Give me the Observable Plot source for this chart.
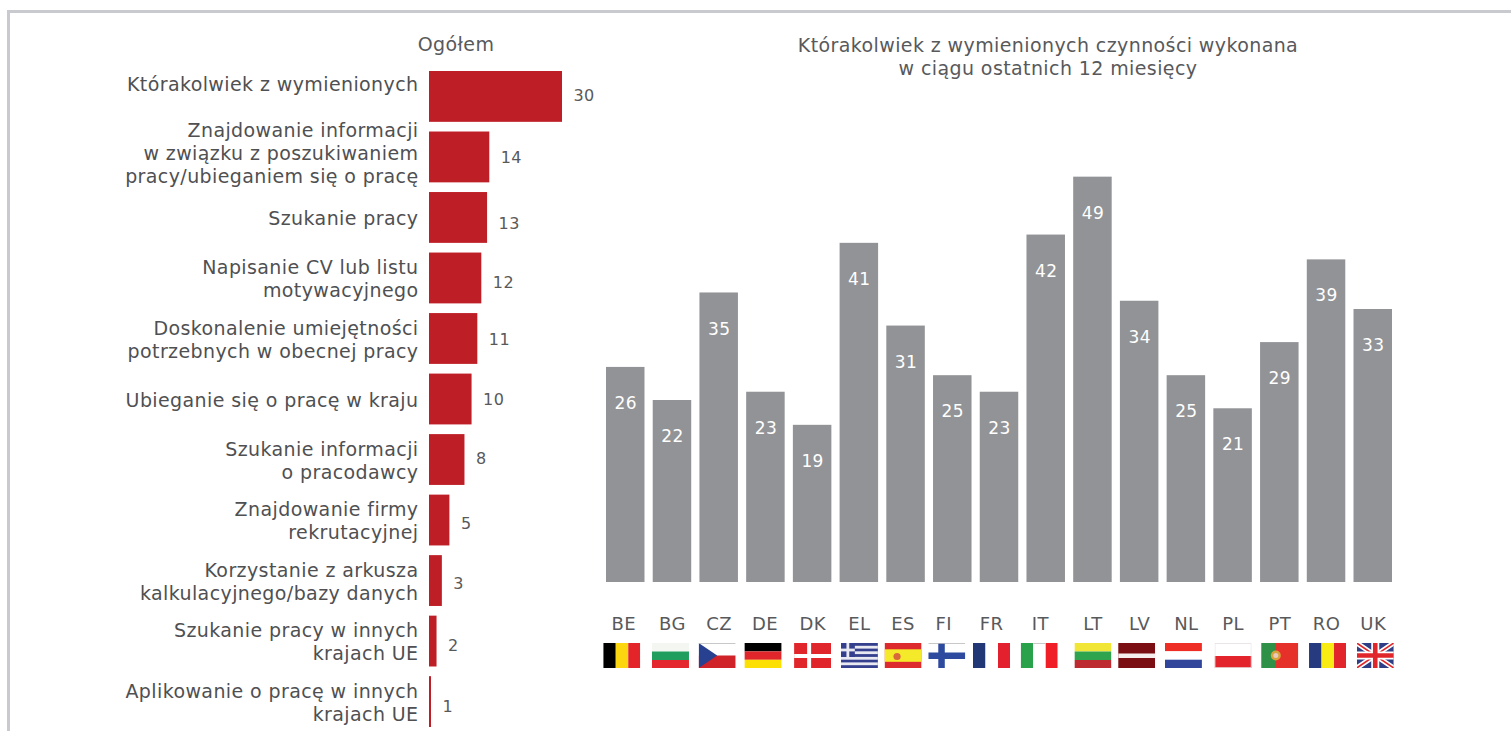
<!DOCTYPE html>
<html lang="pl">
<head>
<meta charset="utf-8">
<script src="https://cdn.jsdelivr.net/npm/d3@7"></script>
<script src="https://cdn.jsdelivr.net/npm/@observablehq/plot@0.6"></script>
<style>
  html, body { margin: 0; padding: 0; background: #fff; overflow: hidden; }
  #page { position: relative; width: 1511px; height: 731px; overflow: hidden; font-family: "DejaVu Sans", Verdana, sans-serif; color: #58595b; }
  #frame { position: absolute; left: 7px; top: 10px; right: -10px; bottom: -10px; border-left: 3px solid #c9cad0; border-top: 3px solid #c9cad0; }
  .panel { position: absolute; top: 0; }
  .panel svg { overflow: visible; }
  .panel text { letter-spacing: 0.4px; }
  .title { position: absolute; text-align: center; font-size: 19px; letter-spacing: 0.4px; line-height: 23px; }
</style>
</head>
<body>
<div id="page">
  <div id="frame"></div>
  <div class="title" style="left:356px;width:200px;top:33px">Ogółem</div>
  <div class="title" style="left:698px;width:700px;top:34px">Którakolwiek z wymienionych czynności wykonana<br>w ciągu ostatnich 12 miesięcy</div>
  <div class="panel" id="left" style="left:0"></div>
  <div class="panel" id="right" style="left:595px"></div>
</div>
<script>
const activities = [
  "Którakolwiek z wymienionych",
  "Znajdowanie informacji\nw związku z poszukiwaniem\npracy/ubieganiem się o pracę",
  "Szukanie pracy",
  "Napisanie CV lub listu\nmotywacyjnego",
  "Doskonalenie umiejętności\npotrzebnych w obecnej pracy",
  "Ubieganie się o pracę w kraju",
  "Szukanie informacji\no pracodawcy",
  "Znajdowanie firmy\nrekrutacyjnej",
  "Korzystanie z arkusza\nkalkulacyjnego/bazy danych",
  "Szukanie pracy w innych\nkrajach UE",
  "Aplikowanie o pracę w innych\nkrajach UE"
];
// bar lengths as measured in the picture, and the rounded figures printed beside them
const activityLengths = [30, 13.6, 13.1, 11.8, 10.9, 9.6, 8, 4.6, 2.9, 1.7, 0.45];
const activityLabels = [30, 14, 13, 12, 11, 10, 8, 5, 3, 2, 1];

const countries = ["BE","BG","CZ","DE","DK","EL","ES","FI","FR","IT","LT","LV","NL","PL","PT","RO","UK"];
const countryValues = [26,22,35,23,19,41,31,25,23,42,49,34,25,21,29,39,33];

const flagArt = {
  BE: '<rect width="12.5" height="25" fill="#000"/><rect x="12.5" width="12.5" height="25" fill="#fcd70f"/><rect x="25" width="12" height="25" fill="#e32428"/>',
  BG: '<rect width="37" height="8.5" fill="#f4f6f2"/><rect y="8.5" width="37" height="8.5" fill="#1f9e5e"/><rect y="17" width="37" height="9" fill="#e4272e"/>',
  CZ: '<rect width="37" height="12.5" fill="#fff"/><rect y="12.5" width="37" height="12.5" fill="#cf2229"/><path d="M0 0L18.5 12.5L0 25Z" fill="#27408f"/><rect width="37" height=".8" fill="#bbb"/>',
  DE: '<rect width="38" height="8.4" fill="#000"/><rect y="8.4" width="38" height="8.4" fill="#e1262b"/><rect y="16.8" width="38" height="8.4" fill="#fcdf03"/>',
  DK: '<rect width="37" height="25" fill="#e1262b"/><rect x="13" width="4" height="25" fill="#fff"/><rect y="11" width="37" height="4" fill="#fff"/>',
  EL: '<rect width="38" height="25" fill="#34408d"/><g fill="#e9e9f2"><rect y="2.8" width="38" height="2.8"/><rect y="8.3" width="38" height="2.8"/><rect y="13.9" width="38" height="2.8"/><rect y="19.4" width="38" height="2.8"/></g><rect width="14" height="14" fill="#34408d"/><rect x="5.6" width="2.8" height="14" fill="#e9e9f2"/><rect y="5.6" width="14" height="2.8" fill="#e9e9f2"/>',
  ES: '<rect width="37" height="25" fill="#dd2a2c"/><rect y="6.3" width="37" height="12.5" fill="#f5ea2a"/><circle cx="12.5" cy="13.5" r="3.6" fill="#d8693a"/>',
  FI: '<rect width="37" height="25" fill="#fff"/><rect x="10" width="6.5" height="25" fill="#2d4a9e"/><rect y="9.5" width="37" height="6.5" fill="#2d4a9e"/><rect width="37" height=".8" fill="#bbb"/>',
  FR: '<rect width="12.5" height="25" fill="#223776"/><rect x="12.5" width="12.5" height="25" fill="#fff"/><rect x="25" width="12" height="25" fill="#e3202e"/>',
  IT: '<rect width="12.5" height="25" fill="#2aa24c"/><rect x="12.5" width="12.5" height="25" fill="#fff"/><rect x="25" width="12" height="25" fill="#f01f27"/><rect x="12.5" width="12.5" height=".8" fill="#bbb"/>',
  LT: '<rect width="37" height="8.5" fill="#f1e535"/><rect y="8.5" width="37" height="8.5" fill="#2ea44f"/><rect y="17" width="37" height="8" fill="#bd2a30"/>',
  LV: '<rect width="37" height="25" fill="#7a0e12"/><rect y="10.5" width="37" height="4.5" fill="#f6eeee"/>',
  NL: '<rect width="37" height="8.3" fill="#ee2d24"/><rect y="8.3" width="37" height="8.4" fill="#fff"/><rect y="16.7" width="37" height="8.3" fill="#31459b"/>',
  PL: '<rect width="37" height="13" fill="#fff"/><rect y="13" width="37" height="12" fill="#e3242c"/><rect x=".4" y=".4" width="36.2" height="24.2" fill="none" stroke="#e6e0e0" stroke-width=".8"/>',
  PT: '<rect width="37" height="25" fill="#e6302a"/><rect width="14.5" height="25" fill="#2f9148"/><circle cx="14.5" cy="12.5" r="5" fill="#d9a43a"/><circle cx="14.5" cy="12.5" r="2.5" fill="#e9c9c0"/>',
  RO: '<rect width="12.5" height="25" fill="#263a80"/><rect x="12.5" width="12.5" height="25" fill="#f9ec15"/><rect x="25" width="12" height="25" fill="#e1252a"/>',
  UK: '<rect width="37" height="25" fill="#2f3e85"/><path d="M0 0L37 25M37 0L0 25" stroke="#fff" stroke-width="5"/><path d="M0 0L37 25M37 0L0 25" stroke="#e1262b" stroke-width="1.6"/><path d="M18.5 0V25M0 12.5H37" stroke="#fff" stroke-width="8"/><path d="M18.5 0V25M0 12.5H37" stroke="#e1262b" stroke-width="4.6"/>'
};
const flagSrc = (c) => "data:image/svg+xml," + encodeURIComponent(
  `<svg xmlns="http://www.w3.org/2000/svg" viewBox="0 0 37 25" preserveAspectRatio="none">${flagArt[c]}</svg>`);

// hand-placed offsets in the original layout, in pixels
const categoryShift = {0: -13, 1: -5};
const valueShift = {0: -2, 1: -1, 2: 5, 3: 3, 5: -1, 6: -2, 7: 2, 8: 2, 9: 3, 10: 4};
const tickShift = {BE:-2, ES:-3, FI:-9, FR:-8, IT:-6, DE:-1};
const flagShift = {BE:-4, BG:-2, CZ:-2, DE:-3, ES:-3, FI:-6, FR:-8, IT:-7, LV:-3, NL:-3, UK:2, RO:1};

const textStyle = {fontFamily: '"DejaVu Sans", Verdana, sans-serif', fontSize: 19, fill: "#58595b", lineHeight: 1.21};

const rows = activities.map((a, i) => ({a, len: activityLengths[i], lab: activityLabels[i], i}));
const leftPlot = Plot.plot({
  width: 620, height: 731,
  marginLeft: 429, marginRight: 58, marginTop: 71, marginBottom: 4,
  style: {background: "transparent", overflow: "visible"},
  x: {domain: [0, 30], axis: null},
  y: {domain: activities, axis: null, paddingInner: 0.16, paddingOuter: 0, round: false},
  marks: [
    Plot.barX(rows, {x: "len", y: "a", fill: "#be1e26", insetLeft: 0, insetRight: 0}),
    ...rows.map(r => Plot.text([r], {
      x: 0, y: "a", text: "a", textAnchor: "end", dx: -11, dy: categoryShift[r.i] || 0,
      ...textStyle, fill: "#4f5052"
    })),
    ...rows.map(r => Plot.text([r], {x: "len", y: "a", text: "lab", textAnchor: "start", dx: 11, dy: valueShift[r.i] || 0, ...textStyle, fontSize: 16, fill: "#58595b"}))
  ]
});
document.getElementById("left").append(leftPlot);

const cols = countries.map((c, i) => ({c, v: countryValues[i], src: flagSrc(c)}));
const rightPlot = Plot.plot({
  width: 816, height: 690,
  marginLeft: 11, marginRight: 19, marginTop: 175, marginBottom: 108,
  style: {background: "transparent", overflow: "visible"},
  x: {domain: countries, axis: null, paddingInner: 0.176, paddingOuter: 0, round: false},
  y: {domain: [0, 49.2], axis: null},
  marks: [
    Plot.barY(cols, {x: "c", y: "v", fill: "#929396"}),
    Plot.text(cols, {x: "c", y: "v", text: "v", dy: 35, ...textStyle, fontSize: 17, fill: "#fff"}),
    ...cols.map(d => Plot.text([d], {x: "c", text: "c", frameAnchor: "bottom", dy: 47, dx: tickShift[d.c] || 0, ...textStyle, fontSize: 18, fill: "#58595b"})),
    ...cols.map(d => Plot.image([d], {x: "c", src: "src", frameAnchor: "bottom", dy: 73, dx: flagShift[d.c] || 0, width: 37, height: 25, preserveAspectRatio: "none"}))
  ]
});
document.getElementById("right").append(rightPlot);
</script>
</body>
</html>
